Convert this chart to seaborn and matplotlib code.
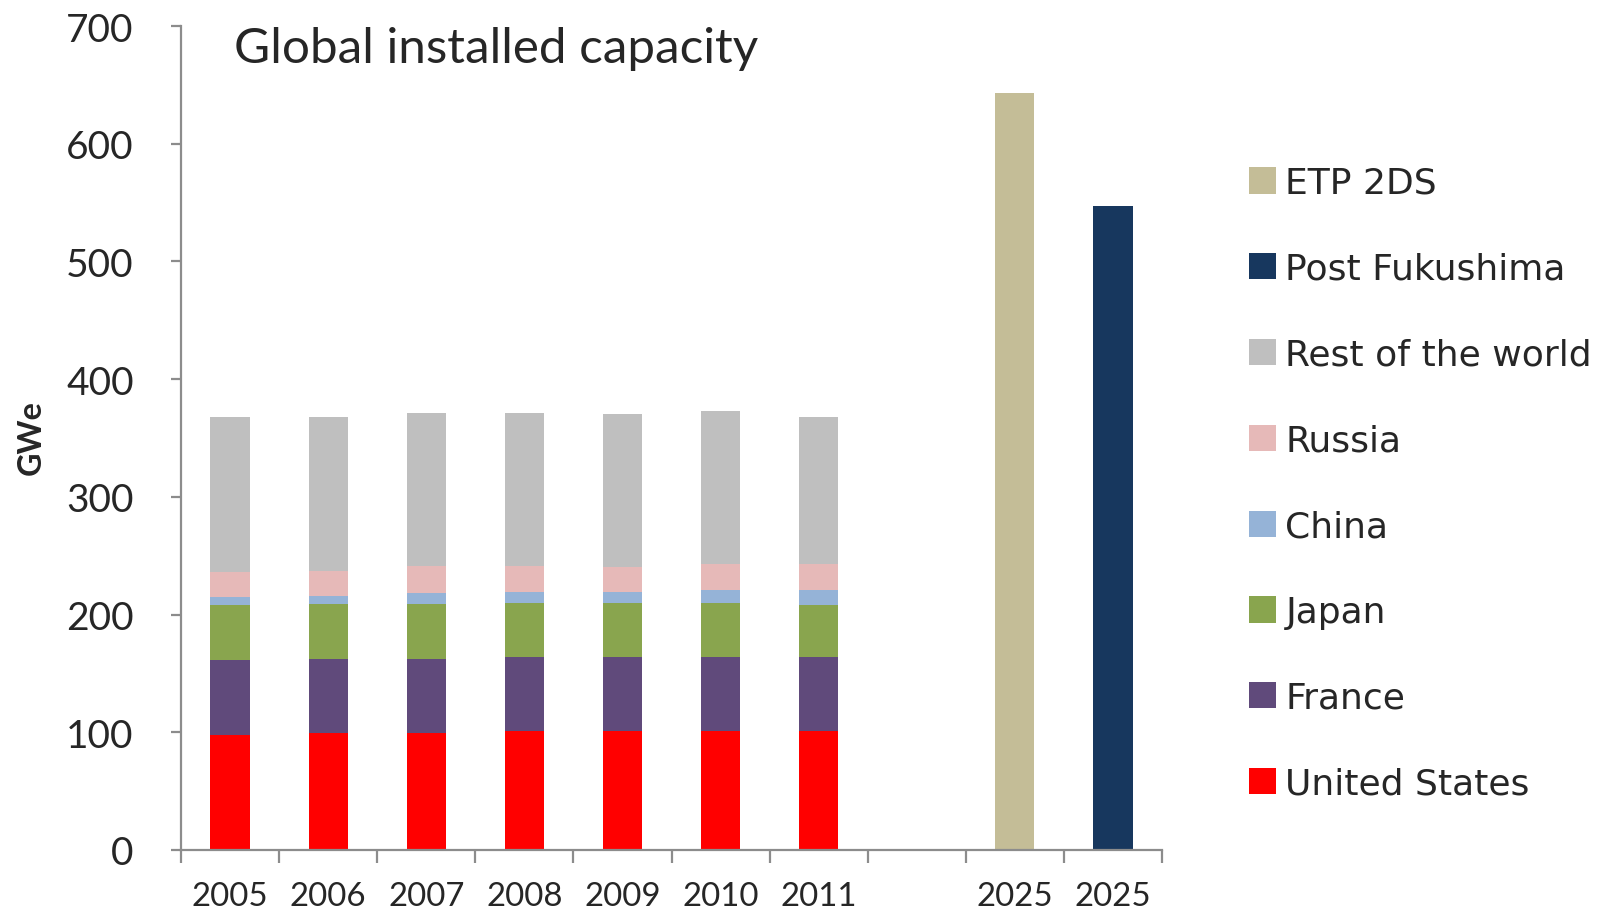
import numpy as np
import pandas as pd
import matplotlib
matplotlib.use("Agg")
import matplotlib.pyplot as plt
from matplotlib.patches import Patch
import seaborn as sns

# data (GWe)
years = ["2005", "2006", "2007", "2008", "2009", "2010", "2011"]
us = [98, 99, 99, 101, 101, 101, 101]
france = [63, 63, 63, 63, 63, 63, 63]
japan = [47, 47, 47, 46, 46, 46, 44]
china = [7, 7, 9, 9, 9, 11, 13]
russia = [21, 21, 23, 22, 21, 22, 22]
rest = [132, 131, 130, 130, 130, 130, 125]

scenario_names = ["ETP 2DS", "Post Fukushima"]
scenario_values = [643, 547]
scenario_labels = ["2025", "2025"]

# slot order on the x axis, one empty slot between history and 2025
order = years + ["gap"] + scenario_names
tick_labels = years + [""] + scenario_labels

layers = ["United States", "France", "Japan", "China", "Russia", "Rest of the world"]
layer_values = [us, france, japan, china, russia, rest]
colors = {
    "United States": "#FF0000",
    "France": "#604A7B",
    "Japan": "#89A54E",
    "China": "#95B3D7",
    "Russia": "#E6B9B8",
    "Rest of the world": "#BFBFBF",
    "ETP 2DS": "#C4BD97",
    "Post Fukushima": "#17375E",
}

sns.set_style("white")
plt.rcParams["font.family"] = ["DejaVu Sans"]

fig = plt.figure(figsize=(15.97, 9.12), dpi=100)
ax = fig.add_axes([181 / 1597, 1 - 851 / 912, (1162 - 181) / 1597, (851 - 27) / 912])

# stacked bars: draw cumulative totals from the top layer down
cum = np.cumsum(np.array(layer_values), axis=0)
for name, top in reversed(list(zip(layers, cum))):
    df = pd.DataFrame({"slot": years, "value": top})
    sns.barplot(data=df, x="slot", y="value", order=order, color=colors[name],
                width=0.4, saturation=1, linewidth=0, ax=ax)

for name, val in zip(scenario_names, scenario_values):
    df = pd.DataFrame({"slot": [name], "value": [val]})
    sns.barplot(data=df, x="slot", y="value", order=order, color=colors[name],
                width=0.4, saturation=1, linewidth=0, ax=ax)

ax.set_xlim(-0.5, len(order) - 0.5)
ax.set_ylim(0, 700)
ax.set_xlabel("")
ax.set_ylabel("")

spine_col = "#8C8C8C"
for s in ["top", "right"]:
    ax.spines[s].set_visible(False)
for s in ["left", "bottom"]:
    ax.spines[s].set_color(spine_col)
    ax.spines[s].set_linewidth(1.6)

ax.set_yticks(range(0, 701, 100))
ax.set_yticklabels([str(v) for v in range(0, 701, 100)], fontfamily="Lato", fontsize=28)
ax.tick_params(axis="y", direction="out", length=7, width=1.6, color=spine_col, pad=27, left=True)

ax.set_xticks(np.arange(-0.5, len(order), 1.0))
ax.set_xticklabels([])
ax.set_xticks(np.arange(len(order)), minor=True)
ax.set_xticklabels(tick_labels, minor=True, fontfamily="Lato", fontsize=23.8)
ax.tick_params(axis="x", which="major", direction="out", length=9, width=1.6, color=spine_col, bottom=True)
ax.tick_params(axis="x", which="minor", length=0, pad=22, bottom=True)

fig.text(234 / 1597, 1 - 63 / 912, "Global installed capacity", fontfamily="Lato",
         fontsize=35.6, ha="left", va="baseline")
fig.text(31 / 1597, 1 - 438 / 912, "GWe", fontfamily="Lato", fontweight="bold",
         fontsize=23.3, rotation=90, ha="center", va="center")

legend_order = ["ETP 2DS", "Post Fukushima", "Rest of the world", "Russia",
                "China", "Japan", "France", "United States"]
handles = [Patch(facecolor=colors[n], edgecolor="none", label=n) for n in legend_order]
fig.legend(handles=handles, loc="upper left", bbox_to_anchor=(1249 / 1597, 1 - 167 / 912),
           frameon=False, fontsize=26, labelspacing=1.435, handlelength=0.74,
           handleheight=0.74, handletextpad=0.27, borderpad=0, borderaxespad=0)

fig.savefig("out.png", dpi=100)
